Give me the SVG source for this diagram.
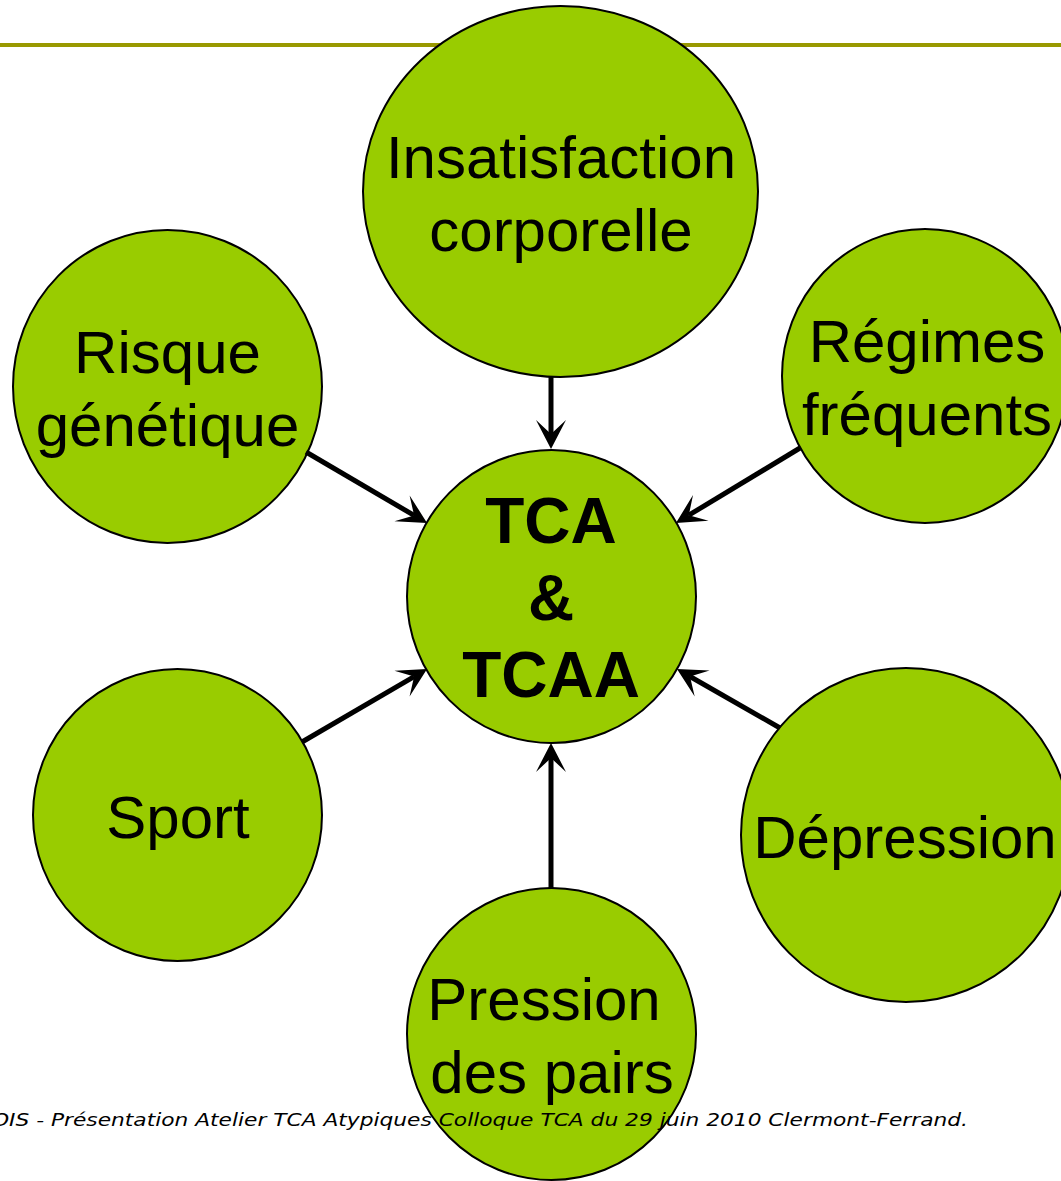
<svg xmlns="http://www.w3.org/2000/svg" width="1061" height="1181" viewBox="0 0 1061 1181">
<style>
.node{fill:#99CC00;stroke:#000;stroke-width:2}
.lbl{font-family:"Liberation Sans",Arial,sans-serif;font-size:60px;fill:#000;text-anchor:middle}
.big{font-family:"Liberation Sans",Arial,sans-serif;font-size:64px;font-weight:bold;fill:#000;text-anchor:middle}
.conn{stroke:#000;stroke-width:5;fill:none;marker-end:url(#arr)}
.foot{font-family:"DejaVu Sans",Verdana,sans-serif;font-size:18.5px;font-style:italic;fill:#000}
</style>
<defs>
<marker id="arr" markerUnits="userSpaceOnUse" markerWidth="60" markerHeight="60" refX="0" refY="0" orient="auto" overflow="visible">
<path d="M15,0 L-14,-15 L0,0 L-14,15 Z" fill="#000"/>
</marker>
</defs>
<rect x="0" y="43" width="1061" height="4" fill="#999900"/>
<g id="insatisfaction">
<ellipse class="node" cx="560.5" cy="191.5" rx="197.5" ry="185.5"/>
<text class="lbl" x="561" y="178">Insatisfaction</text>
<text class="lbl" x="561" y="250.5">corporelle</text>
</g>
<g id="risque">
<ellipse class="node" cx="167.5" cy="386.5" rx="154.5" ry="156.5"/>
<text class="lbl" x="167.5" y="373">Risque</text>
<text class="lbl" x="167.5" y="446">génétique</text>
</g>
<g id="regimes">
<ellipse class="node" cx="925" cy="376" rx="143" ry="147"/>
<text class="lbl" x="927" y="362">Régimes</text>
<text class="lbl" x="927" y="435">fréquents</text>
</g>
<g id="tca">
<ellipse class="node" cx="551.5" cy="596.5" rx="144.5" ry="146.5"/>
<text class="big" x="551" y="543">TCA</text>
<text class="big" x="551" y="620">&amp;</text>
<text class="big" x="551" y="697">TCAA</text>
</g>
<g id="sport">
<ellipse class="node" cx="177.5" cy="815" rx="144.5" ry="146"/>
<text class="lbl" x="178" y="838">Sport</text>
</g>
<g id="depression">
<ellipse class="node" cx="906" cy="835" rx="165" ry="167"/>
<text class="lbl" x="905" y="858">Dépression</text>
</g>
<g id="pression">
<ellipse class="node" cx="551.5" cy="1034" rx="144.5" ry="146"/>
<text class="lbl" x="544" y="1020">Pression</text>
<text class="lbl" x="552" y="1093">des pairs</text>
</g>
<g id="connectors">
<line class="conn" x1="551" y1="377" x2="551" y2="434"/>
<line class="conn" x1="306" y1="452" x2="414.1" y2="515.4"/>
<line class="conn" x1="800" y1="448" x2="688.8" y2="515.2"/>
<line class="conn" x1="302" y1="742" x2="414.1" y2="676.6"/>
<line class="conn" x1="780" y1="728" x2="690" y2="676.5"/>
<line class="conn" x1="551" y1="888" x2="551" y2="758"/>
</g>
<text class="foot" x="-8" y="1126" textLength="976" lengthAdjust="spacingAndGlyphs">OIS - Présentation Atelier TCA Atypiques Colloque TCA du 29 juin 2010 Clermont-Ferrand.</text>
</svg>
